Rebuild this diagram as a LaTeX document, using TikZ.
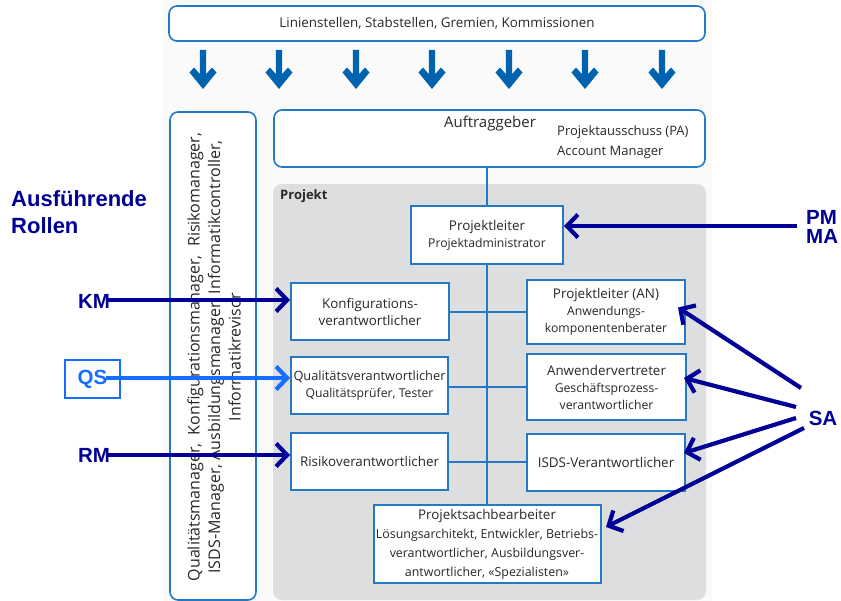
\documentclass[tikz,border=0pt]{standalone}
\usepackage{fontspec}
\setmainfont{Open Sans}
\newfontfamily\labelfont{Liberation Sans}
\usetikzlibrary{arrows.meta}

\definecolor{boxblue}{RGB}{36,120,196}
\definecolor{downblue}{RGB}{0,99,175}
\definecolor{navy}{RGB}{0,0,150}
\definecolor{brightblue}{RGB}{20,110,255}
\definecolor{projgray}{RGB}{221,222,224}
\definecolor{textgray}{RGB}{40,40,40}

\newcommand{\mainsize}{\fontsize{13.4}{17}\selectfont}
\newcommand{\subsize}{\fontsize{12.2}{17}\selectfont}

\tikzset{
  panel/.style={draw=boxblue, line width=1.6pt, rounded corners=8pt, fill=white},
  rolebox/.style={draw=boxblue, line width=2pt, fill=white, align=center,
    text=textgray, inner sep=2pt, font=\mainsize},
  conn/.style={draw=boxblue, line width=2pt},
  rolelabel/.style={font=\labelfont\bfseries\fontsize{20.5}{19}\selectfont, text=navy, inner sep=0pt},
  navyarrow/.style={draw=navy, line width=4.2pt,
    -{Straight Barb[length=11pt,width=23pt,line width=4.2pt]}},
  qsarrow/.style={navyarrow, draw=brightblue},
  downarrow/.style={fill=downblue, draw=none}
}

\begin{document}
\begin{tikzpicture}[x=1pt,y=-1pt]
  \useasboundingbox (0,0) rectangle (841,601);
  \fill[white] (0,0) rectangle (841,601);
  % faint backdrop of the organisation chart
  \fill[black!2] (163,0) rectangle (712,601);

  % top panel with the line functions
  \node[panel, minimum width=536pt, minimum height=35pt, text=textgray, font=\mainsize]
    (linie) at (437,23.5) {Linienstellen, Stabstellen, Gremien, Kommissionen};

  % fat arrows pointing down from the line functions
  \foreach \ax in {203,279,356,432,509,585,662}{
    \fill[downarrow] (\ax-3.2,50) -- (\ax+3.2,50) -- (\ax+3.2,74) -- (\ax+9,67.5)
      -- (\ax+13.5,72.5) -- (\ax,89) -- (\ax-13.5,72.5) -- (\ax-9,67.5) -- (\ax-3.2,74) -- cycle;
  }

  % project area
  \fill[projgray, rounded corners=9pt] (273,184) rectangle (706,600);
  \node[anchor=west, font=\fontsize{13}{15}\selectfont\bfseries, text=textgray, inner sep=0pt]
    (projekt) at (280,196) {Projekt};

  % vertical panel with the manager roles
  \node[panel, minimum width=86pt, minimum height=488pt] (mgr) at (213,356) {};
  \node[rotate=90, align=center, text=textgray, font=\fontsize{16}{20.5}\selectfont]
    (mgrtext) at (214,357)
    {Qualitätsmanager,\ \ Konfigurationsmanager,\ \ Risikomanager,\\
     ISDS-Manager, Ausbildungsmanager, Informatikcontroller,\\
     Informatikrevisor};

  % client panel
  \node[panel, minimum width=431pt, minimum height=57pt] (auf) at (489.5,138.5) {};
  \node[text=textgray, font=\fontsize{15}{17}\selectfont, inner sep=0pt] (auftext) at (490,124) {Auftraggeber};
  \node[anchor=west, align=left, text=textgray, font=\fontsize{13}{20}\selectfont, inner sep=0pt]
    (pa) at (557,142) {Projektausschuss (PA)\\Account Manager};

  % organisational lines
  \coordinate (trunktop) at (487,167);
  \draw[conn] (trunktop) -- (487,505);
  \draw[conn] (370,312) -- (606,312);
  \draw[conn] (369.5,387) -- (606,387);
  \draw[conn] (369.5,462) -- (606,462);

  % project roles
  \node[rolebox, minimum width=152pt, minimum height=58pt] (pl) at (487,235)
    {Projektleiter\\{\subsize Projektadministrator}};
  \node[rolebox, minimum width=158pt, minimum height=57pt] (konf) at (370,311.5)
    {Konfigurations-\\verantwortlicher};
  \node[rolebox, minimum width=157pt, minimum height=57pt, inner xsep=0.5pt,
        font=\fontsize{12.8}{17}\selectfont] (qual) at (369.5,386)
    {Qualitätsverantwortlicher\\{\subsize Qualitätsprüfer, Tester}};
  \node[rolebox, minimum width=157pt, minimum height=57pt] (risk) at (369.5,461.5)
    {Risikoverantwortlicher};
  \node[rolebox, minimum width=158pt, minimum height=64pt] (an) at (606,312)
    {Projektleiter (AN)\\{\subsize Anwendungs-}\\{\subsize komponentenberater}};
  \node[rolebox, minimum width=159pt, minimum height=66pt] (anw) at (606.5,387)
    {Anwendervertreter\\{\subsize Geschäftsprozess-}\\{\subsize verantwortlicher}};
  \node[rolebox, minimum width=158pt, minimum height=57pt] (isds) at (606,462.5)
    {ISDS-Verantwortlicher};
  \node[rolebox, minimum width=227pt, minimum height=78pt, inner xsep=1pt,
        font=\fontsize{12.4}{19}\selectfont] (psb) at (487,544)
    {{\mainsize Projektsachbearbeiter}\\Lösungsarchitekt, Entwickler, Betriebs-\\
     verantwortlicher, Ausbildungsver-\\antwortlicher, «Spezialisten»};

  % executing roles
  \node[rolelabel, anchor=north west, align=left, font=\labelfont\bfseries\fontsize{22}{27}\selectfont]
    (ausf) at (11,190) {Ausführende\\Rollen};
  \node[rolelabel] (km) at (94,301) {KM};
  \node[rolelabel, text=brightblue, draw=brightblue, line width=1.3pt,
        minimum width=55pt, minimum height=38pt] (qs) at (92.5,379) {QS};
  \node[rolelabel] (rm) at (94,455) {RM};
  \node[rolelabel, anchor=west, align=left]
    (pm) at (806,226.5) {PM\\MA};
  \node[rolelabel] (sa) at (823,418) {SA};

  \coordinate (kmstart) at (108,300);
  \coordinate (qsstart) at (106,378);
  \coordinate (rmstart) at (108,455);
  \coordinate (pmstart) at (797,226);
  \coordinate (sa1) at (801,388);
  \coordinate (sa2) at (796,407);
  \coordinate (sa3) at (796,418);
  \coordinate (sa4) at (804,428);

  \draw[navyarrow] (kmstart) -- (konf.west |- kmstart);
  \draw[qsarrow] (qsstart) -- (qual.west |- qsstart);
  \draw[navyarrow] (rmstart) -- (risk.west |- rmstart);
  \draw[navyarrow] (pmstart) -- (pl.east |- pmstart);
  \draw[navyarrow] (sa1) -- ([xshift=-8pt,yshift=4.5pt]an.east);
  \draw[navyarrow] (sa2) -- ([xshift=-3pt,yshift=9pt]anw.east);
  \draw[navyarrow] (sa3) -- ([xshift=-2pt,yshift=9.5pt]isds.east);
  \draw[navyarrow] (sa4) -- ([xshift=4.5pt,yshift=17pt]psb.east);
\end{tikzpicture}
\end{document}
